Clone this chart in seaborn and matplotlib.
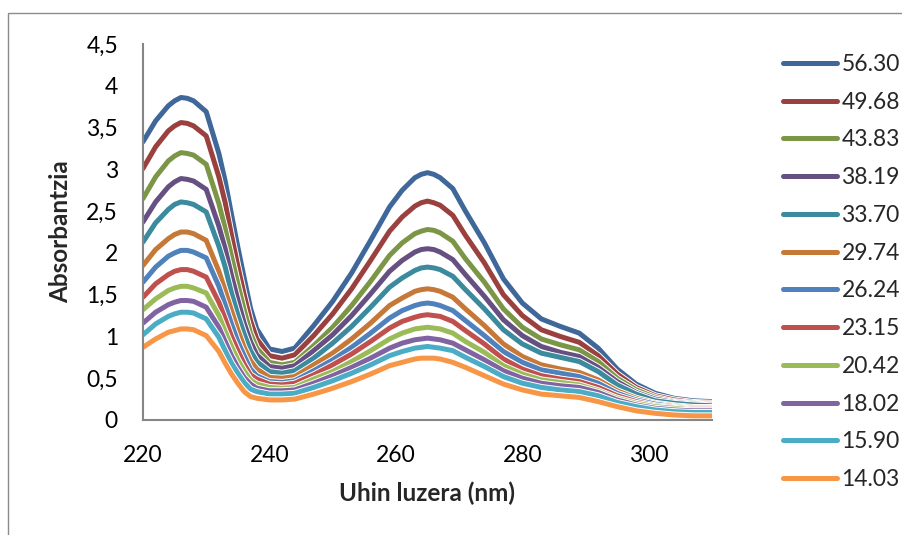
import numpy as np
import pandas as pd
import seaborn as sns
import matplotlib
matplotlib.use("Agg")
import matplotlib.pyplot as plt
import matplotlib.patheffects as pe
from matplotlib.patches import Rectangle
from matplotlib.lines import Line2D

wavelengths = [220, 222, 224, 225, 226, 227, 228, 230,
               232, 233, 234, 235, 236, 237, 238, 240, 242,
               244, 247, 250, 253, 256, 259, 261, 263, 264, 265,
               266, 267, 269, 271, 274, 277, 280, 283, 286, 289,
               292, 295, 298, 301, 304, 307, 310]

labels = ["56.30", "49.68", "43.83", "38.19", "33.70", "29.74",
          "26.24", "23.15", "20.42", "18.02", "15.90", "14.03"]

s_5630 = [3.33, 3.58, 3.76, 3.82, 3.86, 3.85, 3.82, 3.69,
          3.19, 2.86, 2.46, 2.07, 1.70, 1.34, 1.09, 0.85, 0.82,
          0.86, 1.13, 1.42, 1.76, 2.15, 2.55, 2.75, 2.90, 2.94, 2.96,
          2.94, 2.90, 2.77, 2.50, 2.12, 1.69, 1.40, 1.21, 1.12, 1.04,
          0.86, 0.61, 0.43, 0.32, 0.26, 0.23, 0.22]
s_4968 = [3.01, 3.27, 3.46, 3.52, 3.56, 3.55, 3.52, 3.40,
          2.91, 2.60, 2.21, 1.84, 1.50, 1.19, 0.97, 0.77, 0.74,
          0.78, 1.01, 1.27, 1.57, 1.91, 2.26, 2.43, 2.56, 2.60, 2.62,
          2.60, 2.57, 2.45, 2.21, 1.88, 1.50, 1.25, 1.08, 1.00, 0.93,
          0.77, 0.55, 0.39, 0.29, 0.24, 0.21, 0.20]
s_4383 = [2.65, 2.91, 3.10, 3.16, 3.20, 3.19, 3.17, 3.06,
          2.59, 2.29, 1.96, 1.63, 1.32, 1.04, 0.86, 0.69, 0.66,
          0.69, 0.89, 1.11, 1.37, 1.66, 1.97, 2.12, 2.23, 2.26, 2.28,
          2.27, 2.24, 2.14, 1.93, 1.65, 1.33, 1.11, 0.97, 0.90, 0.84,
          0.70, 0.50, 0.36, 0.27, 0.22, 0.20, 0.19]
s_3819 = [2.37, 2.61, 2.79, 2.85, 2.89, 2.88, 2.86, 2.76,
          2.32, 2.05, 1.73, 1.44, 1.16, 0.94, 0.78, 0.64, 0.62,
          0.65, 0.83, 1.02, 1.25, 1.51, 1.78, 1.91, 2.01, 2.04, 2.05,
          2.04, 2.01, 1.92, 1.74, 1.48, 1.20, 1.01, 0.88, 0.81, 0.76,
          0.63, 0.46, 0.33, 0.25, 0.21, 0.19, 0.18]
s_3370 = [2.13, 2.36, 2.52, 2.58, 2.61, 2.60, 2.58, 2.49,
          2.08, 1.83, 1.52, 1.26, 1.03, 0.83, 0.70, 0.58, 0.56,
          0.59, 0.74, 0.92, 1.12, 1.35, 1.59, 1.70, 1.79, 1.82, 1.83,
          1.82, 1.80, 1.72, 1.56, 1.33, 1.08, 0.91, 0.80, 0.75, 0.70,
          0.58, 0.42, 0.31, 0.23, 0.20, 0.18, 0.17]
s_2974 = [1.85, 2.04, 2.17, 2.22, 2.25, 2.25, 2.23, 2.15,
          1.78, 1.55, 1.31, 1.08, 0.87, 0.71, 0.61, 0.51, 0.50,
          0.52, 0.66, 0.80, 0.97, 1.16, 1.37, 1.46, 1.54, 1.56, 1.57,
          1.56, 1.54, 1.47, 1.33, 1.13, 0.91, 0.76, 0.66, 0.61, 0.57,
          0.48, 0.35, 0.26, 0.20, 0.17, 0.15, 0.15]
s_2624 = [1.65, 1.83, 1.96, 2.00, 2.03, 2.03, 2.01, 1.94,
          1.60, 1.38, 1.15, 0.94, 0.77, 0.61, 0.53, 0.46, 0.45,
          0.47, 0.59, 0.72, 0.87, 1.04, 1.22, 1.31, 1.37, 1.39, 1.40,
          1.39, 1.37, 1.31, 1.19, 1.01, 0.82, 0.69, 0.60, 0.56, 0.52,
          0.44, 0.32, 0.24, 0.19, 0.16, 0.14, 0.14]
s_2315 = [1.47, 1.63, 1.74, 1.78, 1.80, 1.80, 1.78, 1.71,
          1.41, 1.21, 1.00, 0.83, 0.67, 0.54, 0.49, 0.43, 0.42,
          0.44, 0.54, 0.66, 0.79, 0.94, 1.10, 1.18, 1.23, 1.25, 1.26,
          1.25, 1.24, 1.18, 1.07, 0.91, 0.73, 0.61, 0.53, 0.49, 0.46,
          0.39, 0.29, 0.22, 0.17, 0.15, 0.13, 0.13]
s_2042 = [1.32, 1.45, 1.55, 1.58, 1.60, 1.60, 1.58, 1.52,
          1.25, 1.06, 0.88, 0.72, 0.59, 0.48, 0.43, 0.39, 0.38,
          0.39, 0.49, 0.58, 0.70, 0.83, 0.97, 1.04, 1.09, 1.10, 1.11,
          1.10, 1.09, 1.04, 0.94, 0.81, 0.65, 0.55, 0.48, 0.45, 0.42,
          0.35, 0.26, 0.20, 0.16, 0.14, 0.12, 0.12]
s_1802 = [1.16, 1.29, 1.38, 1.41, 1.43, 1.43, 1.42, 1.35,
          1.11, 0.94, 0.77, 0.63, 0.51, 0.43, 0.38, 0.35, 0.35,
          0.36, 0.44, 0.53, 0.63, 0.74, 0.86, 0.92, 0.96, 0.97, 0.98,
          0.97, 0.96, 0.92, 0.84, 0.72, 0.59, 0.50, 0.44, 0.41, 0.39,
          0.33, 0.24, 0.18, 0.14, 0.12, 0.11, 0.11]
s_1590 = [1.02, 1.15, 1.24, 1.27, 1.29, 1.29, 1.28, 1.21,
          0.99, 0.83, 0.68, 0.56, 0.45, 0.37, 0.34, 0.31, 0.31,
          0.32, 0.39, 0.47, 0.56, 0.66, 0.77, 0.82, 0.86, 0.87, 0.88,
          0.87, 0.86, 0.83, 0.75, 0.64, 0.52, 0.44, 0.39, 0.36, 0.34,
          0.29, 0.21, 0.16, 0.12, 0.10, 0.09, 0.09]
s_1403 = [0.87, 0.97, 1.05, 1.07, 1.09, 1.09, 1.08, 1.01,
          0.82, 0.68, 0.55, 0.44, 0.34, 0.28, 0.26, 0.24, 0.24,
          0.25, 0.31, 0.38, 0.46, 0.55, 0.65, 0.69, 0.73, 0.74, 0.74,
          0.74, 0.73, 0.69, 0.63, 0.53, 0.43, 0.36, 0.31, 0.29, 0.27,
          0.22, 0.16, 0.11, 0.08, 0.06, 0.05, 0.05]

series = [s_5630, s_4968, s_4383, s_3819, s_3370, s_2974,
          s_2624, s_2315, s_2042, s_1802, s_1590, s_1403]

colors = ["#3F679A", "#9A403E", "#7C9647", "#665082", "#3C8A9E", "#C67838",
          "#4F81BD", "#C0504D", "#9BBB59", "#8064A2", "#4BACC6", "#F79646"]

rows = []
for lab, vals in zip(labels, series):
    for w, v in zip(wavelengths, vals):
        rows.append({"wl": w, "abs": v, "conc": lab})
df = pd.DataFrame(rows)

sns.set_theme(style="white")
plt.rcParams["font.family"] = ["Lato", "DejaVu Sans"]

fig = plt.figure(figsize=(9.03, 5.35), dpi=100)
ax = fig.add_axes([143 / 903, 1 - 420 / 535, (712 - 143) / 903, (420 - 44) / 535])

sns.lineplot(data=df, x="wl", y="abs", hue="conc", hue_order=labels,
             palette=dict(zip(labels, colors)), linewidth=3.6, sort=False,
             estimator=None, ax=ax, legend=False)

for ln in ax.get_lines():
    ln.set_solid_capstyle("round")
    ln.set_solid_joinstyle("round")
    ln.set_path_effects([pe.Stroke(linewidth=5.0, foreground="white"), pe.Normal()])

ax.set_xlim(220, 310)
ax.set_ylim(0, 4.5)
ax.set_xticks([220, 240, 260, 280, 300])
yt = np.arange(0, 4.51, 0.5)
ax.set_yticks(yt)
ax.set_yticklabels([("%g" % t).replace(".", ",") for t in yt])
ax.tick_params(axis="both", length=0, labelsize=16.5, colors="black", pad=18)
for sp in ["top", "right"]:
    ax.spines[sp].set_visible(False)
for sp in ["left", "bottom"]:
    ax.spines[sp].set_color("#868686")
    ax.spines[sp].set_linewidth(1.5)
ax.set_xlabel("Uhin luzera (nm)", fontsize=17.5, fontweight="bold", labelpad=11)
ax.set_ylabel("Absorbantzia", fontsize=17.5, fontweight="bold", labelpad=10)
ax.grid(False)

handles = [Line2D([0], [0], color=c, linewidth=3.6, solid_capstyle="round") for c in colors]
fig.legend(handles, labels, loc="center left", bbox_to_anchor=(783 / 903, 1 - 272 / 535),
           frameon=False, fontsize=16.5, handlelength=2.35, handletextpad=0.2,
           labelspacing=0.73, borderpad=0, borderaxespad=0)

fig.patches.append(Rectangle((8 / 903, -0.01), 1.0, 1 - 13 / 535 + 0.01,
                             transform=fig.transFigure, fill=False,
                             edgecolor="#8C8C8C", linewidth=1.0, zorder=-1))

fig.savefig("out.png", dpi=100)
